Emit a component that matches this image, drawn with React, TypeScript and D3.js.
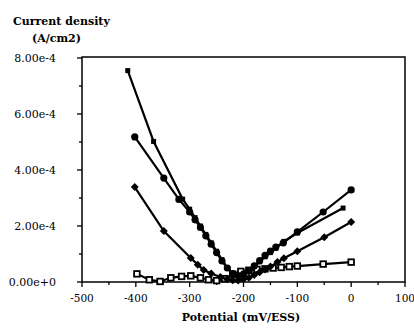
import React from "react";
import * as d3 from "d3";

// Potential (mV/ESS) and current density (units of 1e-4 A/cm2)
const seriesA_x = [-415, -367, -313, -300, -290, -280, -270, -260, -250, -240, -230, -220, -210, -200, -190, -180, -170, -160, -150, -140, -125, -100, -15];
const seriesA_y = [7.55, 5.02, 2.96, 2.6, 2.3, 2.0, 1.7, 1.4, 1.1, 0.8, 0.5, 0.3, 0.25, 0.3, 0.4, 0.55, 0.72, 0.9, 1.05, 1.2, 1.45, 1.75, 2.64];

const seriesB_x = [-402, -348, -320, -300, -290, -280, -270, -260, -250, -240, -230, -220, -210, -200, -190, -180, -170, -160, -150, -140, -126, -100, -52, 0];
const seriesB_y = [5.18, 3.71, 2.95, 2.5, 2.22, 1.95, 1.65, 1.35, 1.05, 0.75, 0.5, 0.3, 0.22, 0.28, 0.4, 0.58, 0.76, 0.95, 1.1, 1.25, 1.4, 1.79, 2.5, 3.29];

const seriesC_x = [-402, -348, -298, -285, -274, -260, -243, -230, -220, -210, -200, -190, -180, -170, -160, -150, -137, -125, -100, -50, 0];
const seriesC_y = [3.39, 1.82, 0.86, 0.62, 0.43, 0.3, 0.18, 0.1, 0.06, 0.05, 0.1, 0.15, 0.25, 0.35, 0.45, 0.55, 0.71, 0.85, 1.1, 1.6, 2.14];

const seriesD_x = [-398, -375, -355, -335, -315, -298, -280, -265, -250, -235, -220, -205, -190, -175, -160, -145, -130, -115, -100, -52, 0];
const seriesD_y = [0.29, 0.08, 0.02, 0.15, 0.2, 0.22, 0.15, 0.08, 0.05, 0.12, 0.28, 0.38, 0.42, 0.45, 0.47, 0.5, 0.52, 0.55, 0.57, 0.64, 0.71];

const xTicks = [-500, -400, -300, -200, -100, 0, 100];
const xMinorTicks = [-450, -350, -250, -150, -50, 50];
const yTicks = [0, 2e-4, 4e-4, 6e-4, 8e-4];
const yTickLabels = ["0.00e+0", "2.00e-4", "4.00e-4", "6.00e-4", "8.00e-4"];
const yMinorTicks = [1e-4, 3e-4, 5e-4, 7e-4];

const yTitle1 = "Current density";
const yTitle2 = "(A/cm2)";
const xTitle = "Potential (mV/ESS)";

type Marker = "square" | "circle" | "diamond" | "opensquare";

const series: { xs: number[]; ys: number[]; marker: Marker }[] = [
  { xs: seriesD_x, ys: seriesD_y, marker: "opensquare" },
  { xs: seriesC_x, ys: seriesC_y, marker: "diamond" },
  { xs: seriesB_x, ys: seriesB_y, marker: "circle" },
  { xs: seriesA_x, ys: seriesA_y, marker: "square" },
];

export default function App() {
  const W = 414, H = 332;
  const x = d3.scaleLinear().domain([-500, 100]).range([82, 405]);
  const y = d3.scaleLinear().domain([0, 8e-4]).range([282, 58]);
  const textStyle: React.CSSProperties = { fontFamily: '"DejaVu Serif", serif' };

  const line = d3
    .line<[number, number]>()
    .x((d) => x(d[0]))
    .y((d) => y(d[1] * 1e-4));

  const renderMarker = (m: Marker, cx: number, cy: number, k: string) => {
    if (m === "square")
      return <rect key={k} x={cx - 2.5} y={cy - 2.5} width={5} height={5} fill="#000" />;
    if (m === "circle")
      return <circle key={k} cx={cx} cy={cy} r={3.6} fill="#000" />;
    if (m === "diamond")
      return (
        <path key={k} d={`M${cx},${cy - 4}L${cx + 4},${cy}L${cx},${cy + 4}L${cx - 4},${cy}Z`} fill="#000" />
      );
    return (
      <rect key={k} x={cx - 2.8} y={cy - 2.8} width={5.6} height={5.6} fill="#fff" stroke="#000" strokeWidth={1.8} />
    );
  };

  return (
    <svg width={W} height={H} style={{ display: "block", position: "absolute", left: 0, top: 0, background: "#fff" }}>
      <rect x={0} y={0} width={W} height={H} fill="#fff" />
      {/* frame */}
      <rect x={x(-500)} y={y(8e-4) - 1} width={x(100) - x(-500)} height={y(0) - y(8e-4) + 1} fill="none" stroke="#000" strokeWidth={1.5} />
      {/* y ticks */}
      {yTicks.map((t, i) => (
        <g key={"yt" + i}>
          <line x1={x(-500) - 5} x2={x(-500)} y1={y(t)} y2={y(t)} stroke="#000" strokeWidth={1.3} />
          <text x={56} y={y(t) + 4} textAnchor="end" style={textStyle} fontSize={11}>
            {yTickLabels[i]}
          </text>
        </g>
      ))}
      {yMinorTicks.map((t, i) => (
        <line key={"ym" + i} x1={x(-500) - 3} x2={x(-500)} y1={y(t)} y2={y(t)} stroke="#000" strokeWidth={1.3} />
      ))}
      {/* x ticks */}
      {xTicks.map((t, i) => (
        <g key={"xt" + i}>
          <line x1={x(t)} x2={x(t)} y1={y(0)} y2={y(0) + 5} stroke="#000" strokeWidth={1.3} />
          <text x={x(t)} y={302} textAnchor="middle" style={textStyle} fontSize={10.5}>
            {t}
          </text>
        </g>
      ))}
      {xMinorTicks.map((t, i) => (
        <line key={"xm" + i} x1={x(t)} x2={x(t)} y1={y(0)} y2={y(0) + 3} stroke="#000" strokeWidth={1.3} />
      ))}
      {/* series */}
      {series.map((s, si) => {
        const pts = s.xs.map((v, i) => [v, s.ys[i]] as [number, number]);
        return (
          <g key={"s" + si}>
            <path d={line(pts) || ""} fill="none" stroke="#000" strokeWidth={2.2} />
            {pts.map((p, i) => renderMarker(s.marker, x(p[0]), y(p[1] * 1e-4), `m${si}-${i}`))}
          </g>
        );
      })}
      {/* titles */}
      <text x={13} y={25} style={textStyle} fontSize={11} fontWeight="bold">
        {yTitle1}
      </text>
      <text x={32} y={42} style={textStyle} fontSize={11} fontWeight="bold">
        {yTitle2}
      </text>
      <text x={241} y={321} textAnchor="middle" style={textStyle} fontSize={11} fontWeight="bold">
        {xTitle}
      </text>
    </svg>
  );
}
